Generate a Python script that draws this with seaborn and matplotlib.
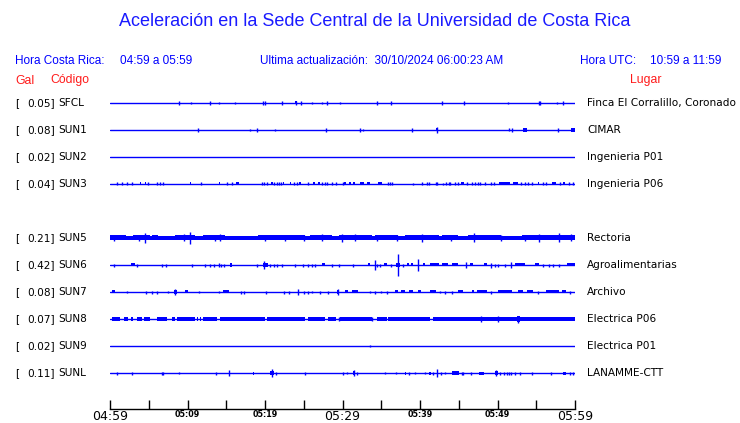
import matplotlib
matplotlib.use("Agg")
import matplotlib.pyplot as plt
import seaborn as sns
import pandas as pd

# ---------------- data ----------------
codes = ["SFCL", "SUN1", "SUN2", "SUN3", "SUN5", "SUN6", "SUN7", "SUN8", "SUN9", "SUNL"]
gal = [0.05, 0.08, 0.02, 0.04, 0.21, 0.42, 0.08, 0.07, 0.02, 0.11]
places = ["Finca El Corralillo, Coronado", "CIMAR", "Ingenieria P01", "Ingenieria P06",
          "Rectoria", "Agroalimentarias", "Archivo", "Electrica P06", "Electrica P01",
          "LANAMME-CTT"]
rows = [0, 1, 2, 3, 5, 6, 7, 8, 9, 10]

tick_minutes = [0, 5, 10, 15, 20, 25, 30, 35, 40, 45, 50, 55, 60]
tick_labels = ["04:59", "", "05:09", "", "05:19", "", "05:29", "", "05:39", "", "05:49", "", "05:59"]
big_ticks = ["04:59", "05:29", "05:59"]

# spikes: (minute, half-height px); blocks: (start min, end min, half-height px)
sfcl_spikes = [(8.9, 2), (10.5, 1), (12.9, 2), (14.1, 1), (16.1, 1), (19.7, 2), (20.0, 2),
               (22.2, 2), (24.0, 2), (24.6, 2), (26.0, 1), (27.3, 1), (28.0, 2), (29.7, 1),
               (34.5, 2), (36.2, 2), (42.9, 2), (45.7, 2), (51.4, 1), (55.3, 2), (55.5, 2),
               (57.7, 1), (58.4, 2)]
sfcl_blocks = [(23.9, 24.1, 1.5)]

sun1_spikes = [(11.4, 2), (18.1, 1), (19.0, 2), (21.3, 1), (27.9, 2), (32.3, 2), (32.6, 1),
               (39.0, 2), (42.2, 3), (51.5, 1.5), (51.9, 2), (57.8, 2)]
sun1_blocks = [(53.3, 53.8, 2), (59.5, 60.0, 2), (42.1, 42.3, 1.5)]

sun2_spikes = []
sun2_blocks = []

sun3_spikes = [(0.86, 1.5), (1.59, 1.5), (2.15, 1.5), (2.88, 1.5), (4.9, 1.5), (6.1, 1.5),
               (6.5, 1.5), (6.8, 1.5), (11.7, 1.5), (15.1, 1.5), (15.8, 1.5), (19.6, 1.5),
               (19.9, 1.5), (20.3, 1.5), (21.2, 1.5), (21.6, 1.5), (21.8, 1.5), (22.0, 1.5),
               (23.7, 1.5), (24.1, 1.5), (25.5, 1.5), (27.4, 1.5), (27.8, 1.5), (28.0, 1.5),
               (28.6, 1.5), (29.2, 1.5), (30.0, 1.5), (35.9, 1.5), (36.1, 1.5), (36.4, 1.5),
               (39.1, 1), (40.2, 1.5), (40.9, 1.5), (41.1, 1.5), (42.1, 1.5), (42.2, 1.5),
               (43.0, 1), (43.4, 1.5), (43.7, 1.5), (43.9, 1.5), (44.5, 1.5), (44.9, 1.5),
               (46.0, 1.5), (46.7, 1.5), (47.1, 1.5), (47.5, 1.5), (47.7, 1.5), (48.4, 1.5),
               (49.1, 1.5), (49.6, 1.5), (53.0, 1.5), (53.5, 1.5), (53.9, 1.5), (54.4, 1.5),
               (55.9, 1.5), (56.3, 1.5), (58.1, 1.5), (59.2, 1.5), (59.7, 1.5)]
sun3_blocks = [(3.85, 4.05, 1.5), (4.5, 4.7, 1.5), (10.3, 10.5, 1.5), (14.0, 14.25, 1.5),
               (16.3, 16.6, 1.5), (20.8, 21.0, 1.5), (22.3, 22.5, 1.5), (23.2, 23.4, 1.5),
               (24.4, 24.6, 1.5), (26.15, 26.45, 1.5), (26.85, 27.15, 1.5), (30.25, 30.45, 1.5),
               (30.9, 31.1, 1.5), (31.4, 31.6, 1.5), (32.2, 32.8, 1.5), (33.1, 33.5, 1.5),
               (34.6, 35.1, 1.5), (45.3, 45.7, 1.5), (50.2, 51.6, 1.5), (52.0, 52.7, 1.5),
               (55.2, 55.4, 1.5), (57.0, 57.6, 1.5), (58.4, 58.7, 1.5)]

sun5_spikes = [(0.5, 3), (3.7, 3), (4.5, 5), (9.5, 3.5), (10.3, 6), (13.5, 3), (14.2, 3.5),
               (20.0, 3), (22.6, 3), (25.0, 3), (27.3, 3.5), (29.9, 4), (31.6, 3.5),
               (34.5, 3), (37.0, 3), (40.2, 4), (44.0, 3), (47.0, 4.5), (50.5, 3),
               (53.5, 3), (55.3, 4), (57.9, 4.5), (59.5, 3.5)]
sun5_blocks = [(0.0, 2.0, 2.5), (2.0, 3.0, 2.0), (3.0, 5.2, 2.5), (5.2, 5.4, 2.0),
               (5.4, 6.2, 2.5), (6.2, 8.4, 2.0), (8.4, 11.0, 2.5), (11.0, 12.0, 2.0),
               (12.0, 14.8, 2.5), (14.8, 19.1, 2.0), (19.1, 25.2, 2.5), (25.2, 25.8, 2.0),
               (25.8, 28.6, 2.5), (28.6, 29.5, 2.0), (29.5, 33.8, 2.5), (33.8, 34.2, 2.0),
               (34.2, 37.2, 2.5), (37.2, 38.1, 2.0), (38.1, 42.4, 2.5), (42.4, 42.8, 2.0),
               (42.8, 44.9, 2.5), (44.9, 46.2, 2.0), (46.2, 50.5, 2.5), (50.5, 53.1, 2.0),
               (53.1, 60.0, 2.5)]

sun6_spikes = [(0.56, 1.5), (3.53, 1.5), (6.67, 1.5), (7.18, 1.5), (10.6, 1.5), (12.3, 1.5),
               (12.9, 1.5), (13.4, 1.5), (14.0, 2), (14.3, 1.5), (14.7, 1.5), (19.0, 1.5),
               (19.9, 4), (20.6, 1.5), (21.1, 1.5), (21.5, 1.5), (22.2, 1.5), (23.9, 1.5),
               (24.9, 1.5), (25.6, 1.5), (26.0, 1.5), (26.5, 1.5), (28.7, 1.5), (29.5, 1.5),
               (31.4, 1.5), (34.2, 5), (34.5, 1.5), (34.9, 1.5), (36.3, 1.5), (37.2, 11),
               (37.8, 1.5), (39.7, 6), (45.9, 3), (49.1, 2.5), (49.7, 1.5), (50.1, 1.5),
               (51.0, 1.5), (51.7, 3), (55.9, 1.5), (56.6, 1.5), (57.1, 1.5), (57.9, 1.5)]
sun6_blocks = [(2.67, 3.23, 1.5), (15.5, 15.7, 2), (19.8, 20.4, 2), (27.4, 27.7, 1.5),
               (33.3, 33.6, 1.5), (35.4, 35.7, 1.5), (36.9, 37.4, 2), (38.3, 38.6, 1.5),
               (38.8, 39.1, 1.5), (40.4, 40.6, 1.5), (41.3, 42.4, 1.5), (42.8, 43.6, 1.5),
               (44.1, 44.9, 1.5), (46.5, 46.9, 1.5), (48.2, 48.6, 1.5), (52.3, 53.5, 1.5),
               (54.8, 55.3, 1.5), (59.0, 60.0, 1.5)]

sun7_spikes = [(2.24, 1), (4.6, 1.5), (5.4, 1.5), (6.1, 1.5), (7.5, 1), (8.4, 3), (11.5, 1),
               (14.0, 1), (16.9, 1.5), (17.3, 1.5), (20.1, 1.5), (22.4, 1.5), (23.1, 1.5),
               (24.3, 3), (25.0, 1.5), (25.6, 1.5), (26.0, 1), (27.1, 1.5), (28.1, 1.5),
               (29.4, 3), (33.5, 1), (34.2, 1.5), (35.0, 1), (35.7, 1.5), (42.6, 1),
               (43.2, 1.5), (44.1, 1.5), (49.2, 1.5), (55.2, 1.5), (59.4, 1.5)]
sun7_blocks = [(0.3, 0.6, 1.5), (8.2, 8.6, 2), (9.7, 10.0, 1.5), (14.6, 15.3, 1.5),
               (29.3, 29.5, 2), (30.3, 30.7, 1.5), (31.2, 32.0, 1.5), (36.8, 37.2, 1.5),
               (37.6, 38.1, 1.5), (38.6, 39.1, 1.5), (39.8, 40.1, 1.5), (41.3, 42.0, 1.5),
               (44.9, 45.6, 1.5), (46.7, 47.0, 1.5), (47.4, 48.7, 1.5), (50.0, 51.9, 1.5),
               (52.6, 53.3, 1.5), (53.8, 54.6, 1.5), (56.2, 57.9, 1.5), (58.3, 58.9, 1.5)]

sun8_spikes = [(29.5, 2), (33.8, 2), (47.9, 3), (50.1, 3), (52.7, 3.5)]
sun8_blocks = [(0.2, 1.29, 1.7), (1.85, 2.37, 1.7), (2.71, 3.01, 1.7), (3.44, 4.09, 1.7),
               (4.43, 5.16, 1.7), (6.02, 7.31, 1.7), (7.96, 8.39, 1.7), (8.6, 11.0, 1.7),
               (11.2, 11.4, 1.7), (11.6, 11.8, 1.7), (12.0, 13.8, 1.7), (14.2, 20.0, 1.7),
               (20.3, 25.2, 1.7), (25.6, 27.7, 1.7), (28.1, 29.2, 1.7), (29.7, 33.8, 1.7),
               (34.4, 35.7, 1.7), (35.9, 41.3, 1.7), (41.7, 60.0, 1.7), (52.5, 52.9, 2.5)]

sun9_spikes = [(33.5, 1)]
sun9_blocks = []

sunl_spikes = [(0.86, 1.5), (2.88, 1.5), (6.67, 1.5), (6.88, 1.5), (8.95, 1), (13.7, 1.5),
               (15.4, 3), (20.9, 4), (21.4, 1.5), (25.2, 1.5), (30.0, 1.5), (30.6, 1),
               (31.5, 2.5), (31.9, 1.5), (35.5, 1), (36.9, 1), (38.6, 1.5), (39.3, 1),
               (40.6, 1), (41.7, 1.5), (42.2, 4), (42.7, 1.5), (43.2, 1), (45.4, 1.5),
               (45.6, 1.5), (46.6, 1.5), (49.85, 3), (50.3, 1.5), (50.8, 1.5), (51.2, 1.5),
               (51.5, 1.5), (51.8, 1.5), (52.2, 1.5), (52.9, 1.5), (54.5, 1.5), (56.9, 1.5),
               (59.4, 1.5), (59.8, 1.5)]
sunl_blocks = [(18.4, 18.6, 1.5), (20.6, 21.1, 2), (31.4, 31.6, 2), (38.0, 38.15, 1.5),
               (41.2, 41.4, 1.5), (44.1, 45.0, 2), (47.6, 48.2, 1.5), (49.7, 50.0, 2),
               (58.4, 58.8, 1.5)]

spikes_all = [sfcl_spikes, sun1_spikes, sun2_spikes, sun3_spikes, sun5_spikes,
              sun6_spikes, sun7_spikes, sun8_spikes, sun9_spikes, sunl_spikes]
blocks_all = [sfcl_blocks, sun1_blocks, sun2_blocks, sun3_blocks, sun5_blocks,
              sun6_blocks, sun7_blocks, sun8_blocks, sun9_blocks, sunl_blocks]

# ---------------- figure ----------------
W, H = 740, 423
sns.set_theme(style="white")
plt.rcParams["font.family"] = ["DejaVu Sans"]
fig = plt.figure(figsize=(W / 100, H / 100), dpi=100)
fig.patch.set_facecolor("white")

BLUE = "#0000ff"
RED = "#ff1a1a"
ROW_PX = 27.0
top_px, bot_px = 90, 409
y_top = (top_px - 103) / ROW_PX
y_bot = (bot_px - 103) / ROW_PX
ax = fig.add_axes([110 / W, (H - bot_px) / H, 465 / W, (bot_px - top_px) / H])
ax.set_facecolor("white")

# baselines through seaborn
base = pd.DataFrame({
    "minute": [0, 60] * len(codes),
    "row": [r for r in rows for _ in range(2)],
    "code": [c for c in codes for _ in range(2)],
})
sns.lineplot(data=base, x="minute", y="row", units="code", estimator=None,
             color=BLUE, lw=1.0, ax=ax, legend=False)

px = 1.0 / ROW_PX
for r, spk, blk in zip(rows, spikes_all, blocks_all):
    for s, e, h in blk:
        ax.fill_between([s, e], r - h * px, r + h * px, color=BLUE, lw=0)
    if spk:
        ax.vlines([m for m, _ in spk], [r - h * px for _, h in spk],
                  [r + h * px for _, h in spk], color=BLUE, lw=1.0)

ax.set_xlim(0, 60)
ax.set_ylim(y_bot, y_top)
for s in ["top", "left", "right"]:
    ax.spines[s].set_visible(False)
ax.spines["bottom"].set_color("black")
ax.spines["bottom"].set_linewidth(1.0)
ax.set_yticks([])
ax.set_xticks(tick_minutes)
ax.set_xticklabels(tick_labels)
ax.tick_params(axis="x", direction="in", length=6.8, width=1.0, color="black", pad=0.8,
               bottom=True)
for lab in ax.get_xticklabels():
    if lab.get_text() in big_ticks:
        lab.set_fontsize(9.0)
    else:
        lab.set_fontsize(5.8)
        lab.set_fontweight("bold")
    lab.set_color("black")
ax.set_xlabel("")
ax.set_ylabel("")


def T(x, y, s, **kw):
    fig.text(x / W, 1 - y / H, s, va="center", **kw)


HF = ["Liberation Sans", "DejaVu Sans"]
T(375, 22, "Aceleración en la Sede Central de la Universidad de Costa Rica",
  ha="center", fontsize=13, color="#1a1aff", family=HF)
T(15, 61.5, "Hora Costa Rica:", fontsize=8.5, color=BLUE, family=HF)
T(120, 61.5, "04:59 a 05:59", fontsize=8.5, color=BLUE, family=HF)
T(260, 61.5, "Ultima actualización:  30/10/2024 06:00:23 AM", fontsize=8.5, color=BLUE, family=HF)
T(580, 61.5, "Hora UTC:", fontsize=8.5, color=BLUE, family=HF)
T(650, 61.5, "10:59 a 11:59", fontsize=8.5, color=BLUE, family=HF)
T(15, 80.5, "Gal", fontsize=8.8, color=RED, family=HF)
T(50, 80.5, "Código", fontsize=8.8, color=RED, family=HF)
T(630, 80.5, "Lugar", fontsize=8.8, color=RED, family=HF)

for r, g, c, p in zip(rows, gal, codes, places):
    y = 103 + ROW_PX * r
    T(15, y, "[", fontsize=7.6, color="black")
    T(55, y, f"{g:.2f}]", fontsize=7.6, color="black", ha="right")
    T(58.5, y, c, fontsize=7.6, color="black")
    T(587, y, p, fontsize=7.6, color="black")

fig.savefig("out.png", dpi=100, facecolor="white")
